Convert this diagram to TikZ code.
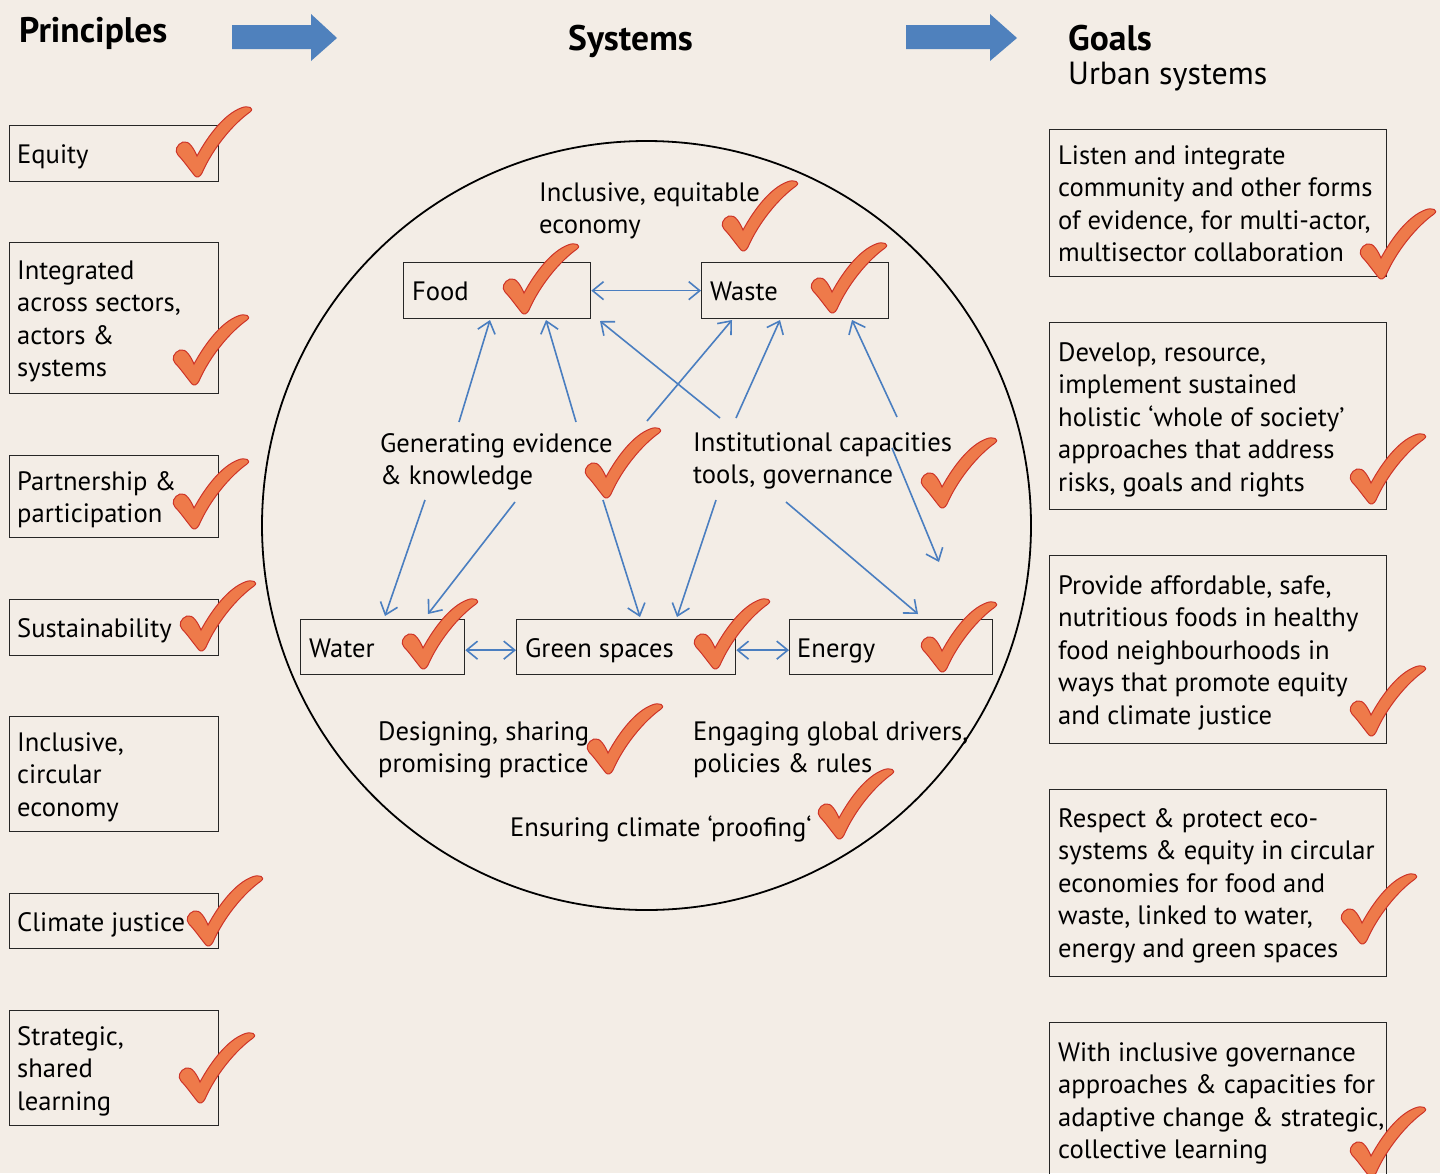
\documentclass[tikz,border=0pt]{standalone}
\usepackage{fontspec}
\setmainfont{PT Sans}
\usetikzlibrary{arrows.meta,calc}
\definecolor{bg}{RGB}{243,237,230}
\definecolor{chk}{RGB}{238,122,74}
\definecolor{chkline}{RGB}{205,52,40}
\definecolor{arr}{RGB}{74,126,192}
\definecolor{bigarr}{RGB}{79,129,189}
\newcommand\txtlines[3]{%
  \foreach \l [count=\i from 0] in {#3}
    \node[txt] at ({#1},{#2+\i*32.6}) {\l};}
\tikzset{
  checkmark/.pic={
    \path[fill=chk, draw=chkline, line width=1pt]
      (0,0) .. controls (-5,-6) and (-12,-16) .. (-17,-21)
      .. controls (-21,-25) and (-18,-32) .. (-12,-34)
      .. controls (-6,-36) and (-1,-27) .. (2,-20)
      .. controls (14,-42) and (30,-62) .. (46,-68)
      .. controls (53,-71) and (60,-68) .. (55,-64)
      .. controls (38,-52) and (18,-28) .. (7,-3)
      .. controls (5,1) and (2,2) .. (0,0) -- cycle;
  },
  box/.style={draw=black!85, line width=1.3pt, inner sep=0pt, anchor=north west},
  txt/.style={inner sep=0pt, anchor=base west, font=\fontsize{26.6}{32}\selectfont},
  link/.style={draw=arr, line width=1.6pt, -{Straight Barb[length=11pt,width=18pt]}},
  dlink/.style={draw=arr, line width=1.6pt, {Straight Barb[length=11pt,width=18pt]}-{Straight Barb[length=11pt,width=18pt]}},
  bigarrow/.style={fill=bigarr, draw=none},
  title/.style={txt, font=\fontsize{35.5}{40}\selectfont\bfseries},
}
\begin{document}
\begin{tikzpicture}[x=1pt,y=-1pt]
\useasboundingbox (0,0) rectangle (1440,1173);
\fill[bg] (0,0) rectangle (1440,1173);

% titles
\node[title] (tprin) at (19,42) {Principles};
\node[title] (tsys) at (568,50) {Systems};
\node[title] (tgoal) at (1068,50) {Goals};
\node[txt, font=\fontsize{32}{36}\selectfont] (turb) at (1068,84) {Urban systems};

% big arrows
\path[bigarrow] (232,25) -- (311,25) -- (311,14) -- (337,38) -- (311,61) -- (311,49) -- (232,49) -- cycle;
\path[bigarrow] (906,25) -- (990,25) -- (990,14) -- (1017,38) -- (990,61) -- (990,49) -- (906,49) -- cycle;

% left boxes
\node[box, minimum width=209pt, minimum height=56pt] (p1) at (9,125) {};
\node[box, minimum width=209pt, minimum height=151pt] (p2) at (9,242) {};
\node[box, minimum width=209pt, minimum height=82pt] (p3) at (9,455) {};
\node[box, minimum width=209pt, minimum height=56pt] (p4) at (9,599) {};
\node[box, minimum width=209pt, minimum height=115pt] (p5) at (9,716) {};
\node[box, minimum width=209pt, minimum height=55pt] (p6) at (9,893) {};
\node[box, minimum width=209pt, minimum height=115pt] (p7) at (9,1010) {};
\txtlines{17}{163}{Equity}
\txtlines{17}{279}{Integrated,{across sectors,},actors \&,systems}
\txtlines{17}{490}{Partnership \&,participation}
\txtlines{17}{637}{Sustainability}
\txtlines{17}{751}{{Inclusive,},circular,economy}
\txtlines{17}{931}{Climate justice}
\txtlines{17}{1045}{{Strategic,},shared,learning}

% right boxes
\node[box, minimum width=337pt, minimum height=147pt] (g1) at (1049,129) {};
\node[box, minimum width=337pt, minimum height=187pt] (g2) at (1049,322) {};
\node[box, minimum width=337pt, minimum height=188pt] (g3) at (1049,555) {};
\node[box, minimum width=337pt, minimum height=187pt] (g4) at (1049,789) {};
\node[box, minimum width=337pt, minimum height=160pt] (g5) at (1049,1022) {};
\txtlines{1058}{164}{Listen and integrate,community and other forms,{of evidence, for multi-actor,},multisector collaboration}
\txtlines{1058}{361}{{Develop, resource,},implement sustained,holistic ‘whole of society’,approaches that address,{risks, goals and rights}}
\txtlines{1058}{594}{{Provide affordable, safe,},nutritious foods in healthy,food neighbourhoods in,ways that promote equity,and climate justice}
\txtlines{1058}{827}{Respect \& protect eco-,systems \& equity in circular,economies for food and,{waste, linked to water,},energy and green spaces}
\txtlines{1058}{1061}{With inclusive governance,approaches \& capacities for,{adaptive change \& strategic,},collective learning}

% circle
\node[draw=black, line width=1.8pt, circle, minimum size=769pt, inner sep=0pt] (sys) at (646.5,525.5) {};

% inner boxes
\node[box, minimum width=187pt, minimum height=56pt] (food) at (403,262) {};
\node[box, minimum width=187pt, minimum height=56pt] (waste) at (701,262) {};
\node[box, minimum width=164pt, minimum height=55pt] (water) at (300,619) {};
\node[box, minimum width=219pt, minimum height=55pt] (green) at (516,619) {};
\node[box, minimum width=203pt, minimum height=55pt] (energy) at (789,619) {};
\txtlines{412}{300}{Food}
\txtlines{710}{300}{Waste}
\txtlines{309}{657}{Water}
\txtlines{525}{657}{Green spaces}
\txtlines{797}{657}{Energy}

% labels
\txtlines{539}{201}{{Inclusive, equitable},economy}
\txtlines{380}{452}{Generating evidence,\& knowledge}
\txtlines{693}{451}{Institutional capacities,{tools, governance}}
\txtlines{378}{740}{{Designing, sharing},promising practice}
\txtlines{693}{740}{{Engaging global drivers,},policies \& rules}
\txtlines{510}{836}{Ensuring climate ‘proofing‘}

% connector endpoints
\coordinate (a1s) at (459,422); \coordinate (a1e) at (490,320);
\coordinate (a2s) at (576,422); \coordinate (a2e) at (546,320);
\coordinate (a3s) at (720,418); \coordinate (a3e) at (600,321);
\coordinate (a4s) at (647,421); \coordinate (a4e) at (732,320);
\coordinate (a5s) at (736,418); \coordinate (a5e) at (780,320);
\coordinate (a6s) at (897,417); \coordinate (a6e) at (852,320);
\coordinate (a7s) at (892,448); \coordinate (a7e) at (939,562);
\coordinate (a8s) at (425,500); \coordinate (a8e) at (385,616);
\coordinate (a9s) at (515,502); \coordinate (a9e) at (428,614);
\coordinate (a10s) at (603,500); \coordinate (a10e) at (640,617);
\coordinate (a11s) at (716,500); \coordinate (a11e) at (677,617);
\coordinate (a12s) at (786,502); \coordinate (a12e) at (918,614);
\foreach \k in {1,...,12} \draw[link] (a\k s) -- (a\k e);
\draw[dlink] (food.east) -- (waste.west);
\draw[dlink] ($(water.east)+(0,3)$) -- ($(green.west)+(0,3)$);
\draw[dlink] ($(green.east)+(0,3)$) -- ($(energy.west)+(0,3)$);

% checkmarks
\foreach \p in {(195,176),(192,384),(192,528),(199,650),(206,945),(198,1102),
  (1379,278),(1369,503),(1369,735),(1360,943),(1369,1176),
  (522,313),(830,312),(421,668),(713,668),(940,671),
  (741,250),(604,497),(940,507),(606,773),(837,838)}
  \pic at \p {checkmark};
\end{tikzpicture}
\end{document}
